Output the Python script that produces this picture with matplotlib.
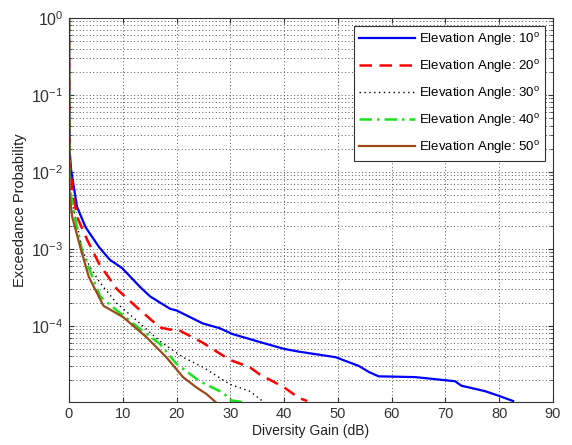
import numpy as np
import matplotlib.pyplot as plt
from matplotlib.ticker import LogLocator, NullFormatter

plt.rcParams['font.family'] = ['Liberation Sans', 'DejaVu Sans']
plt.rcParams['mathtext.fontset'] = 'custom'
plt.rcParams['mathtext.rm'] = 'Liberation Sans'
plt.rcParams['mathtext.it'] = 'Liberation Sans'

# exceedance curves, diversity gain (dB) vs probability
gain_10 = [0, 0.1, 0.4, 1.5, 3.1, 5.6, 7.6, 9.9, 13.2, 15.1, 18.8, 20, 24.9, 28,
           30.4, 36, 40, 42.8, 49.6, 53.9, 55.8, 57.6, 64.4, 71.8, 73, 77.4, 79.9, 82.6]
prob_10 = [1, 2.0e-2, 1.05e-2, 3.5e-3, 1.9e-3, 1.05e-3, 7.2e-4, 5.6e-4, 3.2e-4, 2.4e-4,
           1.66e-4, 1.58e-4, 1.07e-4, 9.3e-5, 7.8e-5, 6.0e-5, 5.0e-5, 4.6e-5, 3.9e-5,
           3.0e-5, 2.5e-5, 2.2e-5, 2.15e-5, 1.9e-5, 1.66e-5, 1.41e-5, 1.23e-5, 1.05e-5]

gain_20 = [0, 0.1, 0.6, 1.5, 3.4, 5.6, 8.9, 12.6, 16.9, 18.8, 20, 24.9, 29.9, 33.6,
           35.4, 40, 42.8, 44.3]
prob_20 = [1, 1.5e-2, 6.3e-3, 2.6e-3, 1.3e-3, 6.4e-4, 3.0e-4, 1.74e-4, 9.5e-5, 8.9e-5,
           9.1e-5, 6.0e-5, 3.6e-5, 2.9e-5, 2.35e-5, 1.58e-5, 1.15e-5, 1.05e-5]

gain_30 = [0, 0.1, 0.9, 2.5, 3.9, 5.8, 8.9, 12.6, 16.9, 21.2, 24.9, 29.9, 33.6, 36]
prob_30 = [1, 7.0e-3, 3.2e-3, 9.5e-4, 5.8e-4, 3.6e-4, 1.95e-4, 1.17e-4, 6.3e-5,
           3.9e-5, 2.9e-5, 1.74e-5, 1.41e-5, 1.05e-5]

gain_40 = [0, 0.1, 0.9, 2.5, 3.9, 5.8, 8.9, 13.2, 16.9, 20, 24.3, 28.6, 30.2, 32.3]
prob_40 = [1, 6.5e-3, 3.0e-3, 9.0e-4, 5.2e-4, 2.4e-4, 1.58e-4, 9.1e-5, 5.8e-5,
           3.2e-5, 1.9e-5, 1.35e-5, 1.07e-5, 1.02e-5]

gain_50 = [0, 0.1, 0.6, 2.1, 3.7, 6.4, 10.1, 14.4, 18.1, 21.2, 23.7, 25.6, 27.4]
prob_50 = [1, 5.0e-3, 2.6e-3, 1.05e-3, 4.3e-4, 1.82e-4, 1.29e-4, 7.1e-5, 3.9e-5,
           2.15e-5, 1.58e-5, 1.29e-5, 1.0e-5]

labels = ['Elevation Angle: 10$^{o}$', 'Elevation Angle: 20$^{o}$',
          'Elevation Angle: 30$^{o}$', 'Elevation Angle: 40$^{o}$',
          'Elevation Angle: 50$^{o}$']

fig = plt.figure(figsize=(5.72, 4.45), dpi=100)
ax = fig.add_axes([0.1206, 0.0966, 0.846, 0.863])

ax.semilogy(gain_10, prob_10, color='#0000ff', lw=1.6, ls='-', label=labels[0])
ax.semilogy(gain_20, prob_20, color='#ff0000', lw=1.8, ls=(0, (5, 3)), label=labels[1])
ax.semilogy(gain_30, prob_30, color='black', lw=1.0, ls=(0, (1, 2.5)), label=labels[2])
ax.semilogy(gain_40, prob_40, color='#1ee01e', lw=1.8, ls=(0, (5, 2, 1, 2)), label=labels[3])
ax.semilogy(gain_50, prob_50, color='#9c4a1a', lw=1.6, ls='-', label=labels[4])

ax.set_xlim(0, 90)
ax.set_ylim(1.02e-5, 1)
ax.set_xticks(np.arange(0, 91, 10))
ax.yaxis.set_major_locator(LogLocator(base=10, numticks=10))
ax.yaxis.set_minor_locator(LogLocator(base=10, subs=np.arange(2, 10), numticks=20))
ax.yaxis.set_minor_formatter(NullFormatter())

ax.grid(True, which='major', ls=(0, (1, 2.5)), color='#555555', lw=0.7)
ax.grid(True, which='minor', axis='y', ls=(0, (1, 2.5)), color='#555555', lw=0.7)
ax.tick_params(which='both', direction='in', labelsize=10.5, colors='#333333',
               top=True, right=True)
ax.tick_params(axis='y', labelsize=11.5, pad=4)
for s in ax.spines.values():
    s.set_color('#333333')

ax.set_xlabel('Diversity Gain (dB)', fontsize=10, color='#222222', labelpad=2)
ax.set_ylabel('Exceedance Probability', fontsize=10.5, color='#222222', labelpad=3)

leg = ax.legend(loc='upper right', fontsize=9.5, fancybox=False, framealpha=1,
                edgecolor='#333333', handlelength=4.2, borderaxespad=0.6,
                labelspacing=0.75, handletextpad=0.3)
leg.get_frame().set_linewidth(0.8)

fig.savefig('out.png', dpi=100)
